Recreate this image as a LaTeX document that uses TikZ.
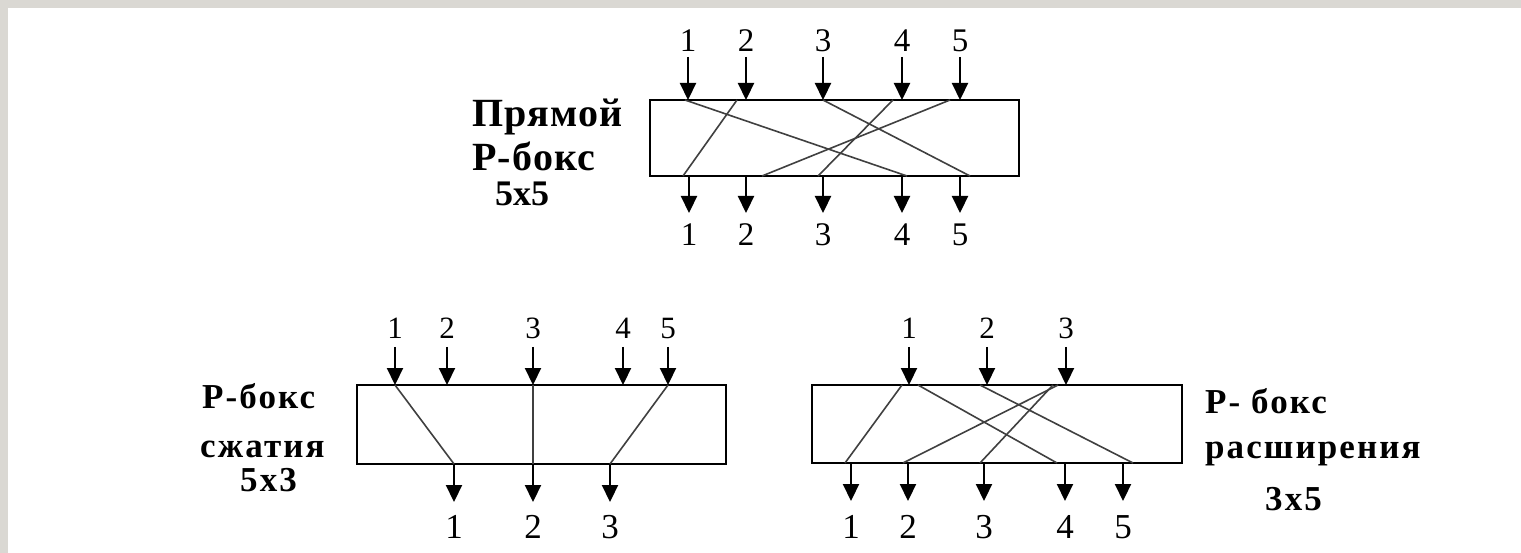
\documentclass[tikz,border=0pt]{standalone}
\usepackage{fontspec}
\setmainfont{Liberation Serif}
\usetikzlibrary{arrows.meta}
\definecolor{bggray}{RGB}{218,216,211}
\tikzset{
  pbox/.style={draw, line width=2.4pt, inner sep=0pt, fill=none},
  arr/.style={line width=2.2pt, -{Triangle[width=16pt,length=17pt]}},
  wire/.style={line width=1.6pt, black!75},
  dig/.style={inner sep=0pt, anchor=base, font=\fontsize{33}{33}\selectfont},
  digs/.style={inner sep=0pt, anchor=base, font=\fontsize{31}{31}\selectfont},
  digl/.style={inner sep=0pt, anchor=base, font=\fontsize{35}{35}\selectfont},
  lbl/.style={inner sep=0pt, anchor=base west, font=\fontsize{40}{40}\bfseries\addfontfeature{LetterSpace=3}\selectfont},
  lbls/.style={inner sep=0pt, anchor=base west, font=\fontsize{35}{35}\bfseries\addfontfeature{LetterSpace=6}\selectfont}
}
\begin{document}
\begin{tikzpicture}[x=1pt,y=-1pt]
\useasboundingbox (0,0) rectangle (1521,553);
\fill[bggray] (0,0) rectangle (1521,553);
\fill[white] (8,8) rectangle (1521,553);

% ---------- top: straight P-box 5x5 ----------
\node[pbox, minimum width=369pt, minimum height=76pt] (A) at (834.5,138) {};
\node[lbl] (At1) at (472,127) {Прямой};
\node[lbl] (At2) at (472,171) {Р-бокс};
\node[lbl, font=\fontsize{36}{36}\bfseries\selectfont] (At3) at (495,206) {5x5};
\foreach \i/\x in {1/688,2/746,3/823,4/902,5/960}{
  \node[dig] (Ain\i) at (\x,52) {\i};
  \coordinate (Ais\i) at (\x,57);
  \coordinate (Aie\i) at (\x,100);
  \draw[arr] (Ais\i) -- (Aie\i);
}
\foreach \i/\x in {1/689,2/746,3/823,4/902,5/960}{
  \node[dig] (Aout\i) at (\x,246) {\i};
  \coordinate (Aos\i) at (\x,176);
  \coordinate (Aoe\i) at (\x,213);
  \draw[arr] (Aos\i) -- (Aoe\i);
}
\foreach \n/\a/\b in {1/685/907,2/737/683,3/823/970,4/893/818,5/950/762}{
  \coordinate (Awa\n) at (\a,100);
  \coordinate (Awb\n) at (\b,176);
  \draw[wire] (Awa\n) -- (Awb\n);
}

% ---------- bottom left: compression P-box 5x3 ----------
\node[pbox, minimum width=369pt, minimum height=79pt] (B) at (541.5,424.5) {};
\node[lbls] (Bt1) at (202,408) {Р-бокс};
\node[lbls] (Bt2) at (200,457) {сжатия};
\node[lbls] (Bt3) at (240,491) {5x3};
\foreach \i/\x in {1/395,2/447,3/533,4/623,5/668}{
  \node[digs] (Bin\i) at (\x,339) {\i};
  \coordinate (Bis\i) at (\x,347);
  \coordinate (Bie\i) at (\x,385);
  \draw[arr] (Bis\i) -- (Bie\i);
}
\foreach \i/\x in {1/454,2/533,3/610}{
  \node[digl] (Bout\i) at (\x,538) {\i};
  \coordinate (Bos\i) at (\x,464);
  \coordinate (Boe\i) at (\x,502);
  \draw[arr] (Bos\i) -- (Boe\i);
}
\foreach \n/\a/\b in {1/395/454,2/533/533,3/668/610}{
  \coordinate (Bwa\n) at (\a,385);
  \coordinate (Bwb\n) at (\b,464);
  \draw[wire] (Bwa\n) -- (Bwb\n);
}

% ---------- bottom right: expansion P-box 3x5 ----------
\node[pbox, minimum width=370pt, minimum height=78pt] (C) at (997,424) {};
\node[lbls] (Ct1) at (1205,413) {Р- бокс};
\node[lbls] (Ct2) at (1205,458) {расширения};
\node[lbls] (Ct3) at (1265,510) {3x5};
\foreach \i/\x in {1/909,2/987,3/1066}{
  \node[digs] (Cin\i) at (\x,339) {\i};
  \coordinate (Cis\i) at (\x,347);
  \coordinate (Cie\i) at (\x,385);
  \draw[arr] (Cis\i) -- (Cie\i);
}
\foreach \i/\x in {1/851,2/908,3/984,4/1065,5/1123}{
  \node[digl] (Cout\i) at (\x,538) {\i};
  \coordinate (Cos\i) at (\x,463);
  \coordinate (Coe\i) at (\x,501);
  \draw[arr] (Cos\i) -- (Coe\i);
}
\foreach \n/\a/\b in {1/902/845,2/918/1057,3/980/1133,4/1058/903,5/1053/980}{
  \coordinate (Cwa\n) at (\a,385);
  \coordinate (Cwb\n) at (\b,463);
  \draw[wire] (Cwa\n) -- (Cwb\n);
}
\end{tikzpicture}
\end{document}
